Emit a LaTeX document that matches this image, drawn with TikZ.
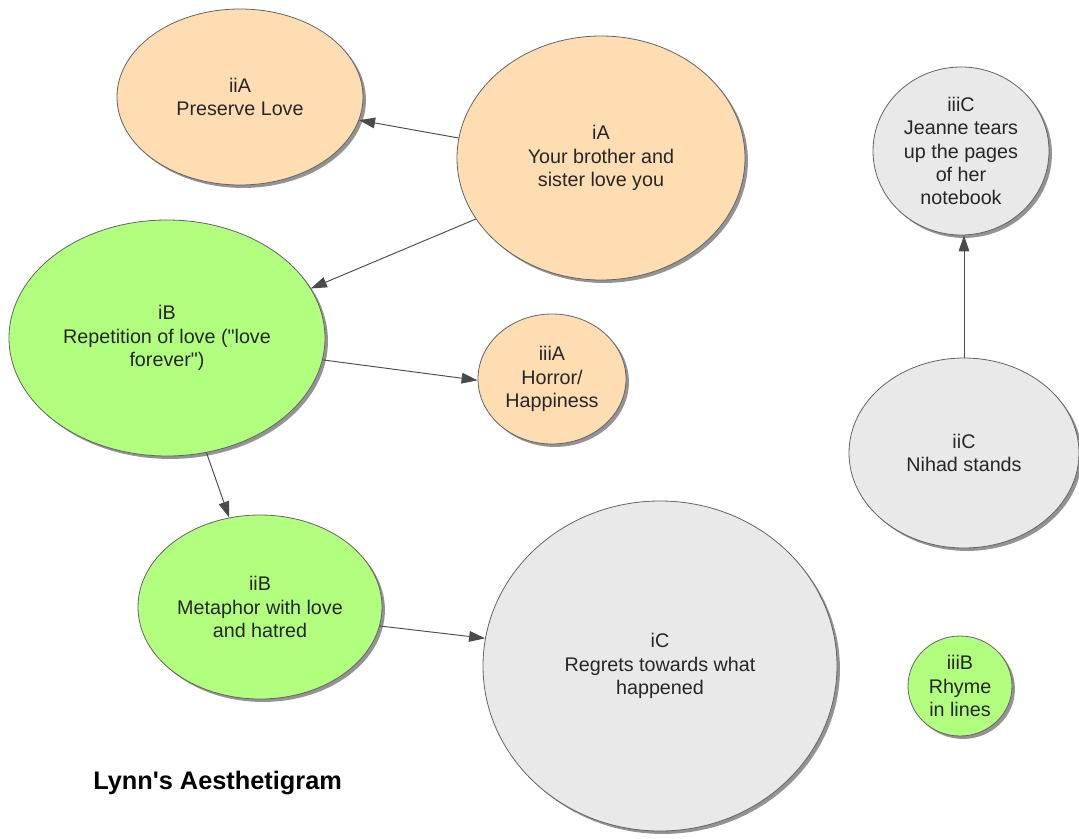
\documentclass[tikz,border=0pt]{standalone}
\usepackage{fontspec}
\setmainfont{Liberation Sans}
\usetikzlibrary{shapes.geometric,arrows.meta,shadows}
\definecolor{peach}{RGB}{255,221,179}
\definecolor{lime}{RGB}{178,255,128}
\definecolor{pale}{RGB}{234,233,233}
\definecolor{rim}{RGB}{100,100,100}
\definecolor{ink}{RGB}{38,38,38}
\definecolor{wire}{RGB}{75,75,75}
\begin{document}
\begin{tikzpicture}[x=0.75pt,y=-0.75pt,
  bubble/.style={ellipse, draw=rim, line width=0.6pt, inner sep=0pt, align=center, text=ink,
     font=\fontsize{14.8}{17.6}\selectfont,
     drop shadow={shadow xshift=2.2pt, shadow yshift=-2.2pt, fill=black!60, opacity=0.7}},
  rxy/.style 2 args={minimum width=#1*1.5pt, minimum height=#2*1.5pt},
  link/.style={draw=wire, line width=0.7pt, -{Triangle[length=12pt,width=8pt]}}
]
\fill[white] (0,0) rectangle (1079,839);
\useasboundingbox (0,0) rectangle (1079,839);

\node[bubble, fill=peach, rxy={123}{88}] (iiA) at (240,97) {iiA\\Preserve Love};
\node[bubble, fill=peach, rxy={144}{122}] (iA) at (601,158) {iA\\Your brother and\\sister love you};
\node[bubble, fill=pale, rxy={88}{84}] (iiiC) at (961,151) {iiiC\\Jeanne tears\\up the pages\\of her\\notebook};
\node[bubble, fill=lime, rxy={158}{118}] (iB) at (167,338) {iB\\Repetition of love (\textquotedbl love\\forever\textquotedbl)};
\node[bubble, fill=peach, rxy={74}{65}] (iiiA) at (552,379) {iiiA\\Horror/\\Happiness};
\node[bubble, fill=pale, rxy={115}{95}] (iiC) at (964,453) {iiC\\Nihad stands};
\node[bubble, fill=lime, rxy={122}{92}] (iiB) at (260,607) {iiB\\Metaphor with love\\and hatred};
\node[bubble, fill=pale, rxy={177}{165}] (iC) at (660,666) {iC\\Regrets towards what\\happened};
\node[bubble, fill=lime, rxy={52}{50}] (iiiB) at (960,686) {iiiB\\Rhyme\\in lines};

\node[anchor=base west, inner sep=0pt, font=\bfseries\fontsize{19}{22}\selectfont] (title) at (93,789) {Lynn\textquotesingle s Aesthetigram};

\draw[link] (iA.172) -- (iiA.349);
\draw[link] (iA.206) -- (iB.19);
\draw[link] (iB.352) -- (iiiA.181);
\draw[link] (iB.289) -- (iiB.109);
\draw[link] (iiB.351) -- (iC.171);
\draw[link] (iiC.north) -- (iiC.north |- iiiC.south);
\end{tikzpicture}
\end{document}
